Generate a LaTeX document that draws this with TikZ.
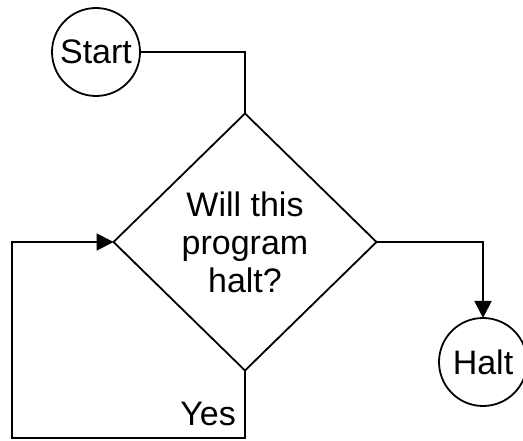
\documentclass[tikz,border=0pt]{standalone}
\usepackage{fontspec}
\setmainfont{Liberation Sans}
\usetikzlibrary{arrows.meta,shapes.geometric}

\begin{document}
\begin{tikzpicture}[x=1pt, y=-1pt, line width=1.8pt, >={Triangle[length=17pt,width=17pt]},
  end node/.style={circle,draw,inner sep=0pt,outer sep=0pt,minimum size=88pt,font=\fontsize{34}{38}\selectfont},
  test node/.style={diamond,draw,inner sep=0pt,outer sep=0pt,minimum width=263pt,minimum height=257pt,align=center,font=\fontsize{34}{38}\selectfont}]

\useasboundingbox (0,0) rectangle (523,441);

\node[end node](start) at (96,52) {Start};
\node[test node](test) at (245,242) {Will this\\program\\halt?};
\node[end node](halt) at (483,362) {Halt};

\coordinate (loop) at (12,438);

\draw (start.east) -| (test.north);
\draw[->] (test.east) -| (halt.north);
\draw[->] (test.south) |- (loop) |- (test.west);

\node[font=\fontsize{34}{38}\selectfont, anchor=east](yes) at (240,414) {Yes};

\end{tikzpicture}
\end{document}
